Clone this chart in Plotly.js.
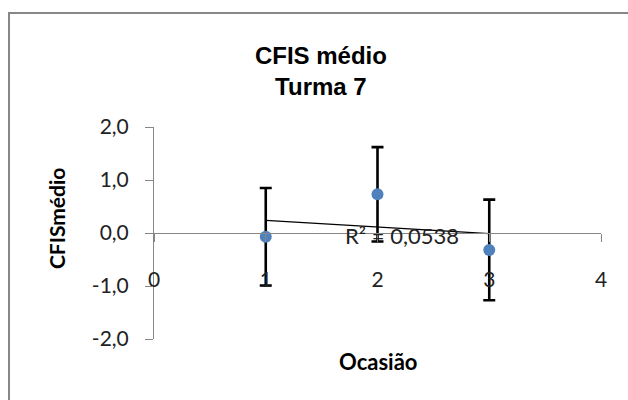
<!DOCTYPE html>
<html>
<head>
<meta charset="utf-8">
<script src="https://cdn.plot.ly/plotly-3.0.1.min.js"></script>
<style>
  html, body { margin: 0; padding: 0; background: #fff; overflow: hidden; }
  #wrap { position: relative; width: 628px; height: 400px; }
  #chart { width: 628px; height: 400px; }
  #frame { position: absolute; left: 8px; top: 12px; width: 700px; height: 500px;
           border-left: 2px solid #878787; border-top: 2px solid #878787; pointer-events: none; }
</style>
</head>
<body>
<div id="wrap">
  <div id="chart"></div>
  <div id="frame"></div>
</div>
<script>
// ---- data ----
const ocasiao = [1, 2, 3];
const cfisMedio = [-0.07, 0.73, -0.32];
const erroPadrao = [0.92, 0.89, 0.95];
const xTickVals = [0, 1, 2, 3, 4];
const xTickText = ["0", "1", "2", "3", "4"];
const yTickVals = [-2, -1, 0, 1, 2];
const yTickText = ["-2,0", "-1,0", "0,0", "1,0", "2,0"];
const r2Label = "R² = 0,0538";

// linear trendline (least squares) from the data
const n = ocasiao.length;
const mx = ocasiao.reduce((a, b) => a + b, 0) / n;
const my = cfisMedio.reduce((a, b) => a + b, 0) / n;
let sxy = 0, sxx = 0;
for (let i = 0; i < n; i++) { sxy += (ocasiao[i] - mx) * (cfisMedio[i] - my); sxx += (ocasiao[i] - mx) ** 2; }
const slope = sxy / sxx, intercept = my - slope * mx;
const trendX = [Math.min(...ocasiao), Math.max(...ocasiao)];
const trendY = trendX.map(x => intercept + slope * x);

const FAM = "Lato, 'Open Sans', sans-serif";
const tickFont = { family: FAM, size: 21, color: "#222" };

const traces = [
  {
    x: trendX, y: trendY, type: "scatter", mode: "lines",
    line: { color: "#000", width: 1.3 }, hoverinfo: "skip", showlegend: false
  },
  {
    x: ocasiao, y: cfisMedio, type: "scatter", mode: "markers",
    marker: { color: "#4F81BD", size: 12 },
    error_y: { type: "data", array: erroPadrao, visible: true, color: "#000", thickness: 2.6, width: 6 },
    showlegend: false
  }
];

const layout = {
  width: 628, height: 400,
  margin: { l: 154, r: 27, t: 127, b: 61 },
  paper_bgcolor: "#fff", plot_bgcolor: "rgba(0,0,0,0)",
  showlegend: false,
  title: {
    text: "<b>CFIS médio</b><br><b>Turma 7</b>",
    font: { family: "'Liberation Sans', Arial, sans-serif", size: 24, color: "#000" },
    x: 0.511, xanchor: "center", y: 0.84, yanchor: "middle"
  },
  xaxis: {
    range: [0, 4], tickvals: xTickVals, ticktext: xTickText,
    showgrid: false, zeroline: false,
    showline: true, linecolor: "#878787", linewidth: 1,
    ticks: "outside", ticklen: 8, tickcolor: "#878787",
    anchor: "free", position: 0.5,
    ticklabelstandoff: 20,
    tickfont: tickFont
  },
  yaxis: {
    range: [-2, 2], tickvals: yTickVals, ticktext: yTickText,
    showgrid: false, zeroline: false,
    showline: true, linecolor: "#878787", linewidth: 1,
    ticks: "outside", ticklen: 8, tickcolor: "#878787",
    ticklabelstandoff: 12,
    tickfont: tickFont
  },
  annotations: [
    {
      x: 2.22, y: -0.04, xref: "x", yref: "y", text: r2Label, showarrow: false,
      font: { family: FAM, size: 22, color: "#222" },
      xanchor: "center", yanchor: "middle"
    },
    {
      text: "<b>Ocasião</b>", xref: "paper", yref: "paper", x: 0.5, y: -0.105,
      xanchor: "center", yanchor: "middle", showarrow: false,
      font: { family: FAM, size: 22, color: "#000" }
    },
    {
      text: "<b>CFISmédio</b>", xref: "paper", yref: "paper", x: -0.219, y: 0.566,
      xanchor: "center", yanchor: "middle", textangle: -90, showarrow: false,
      font: { family: FAM, size: 21, color: "#000" }
    }
  ]
};

Plotly.newPlot("chart", traces, layout, { staticPlot: true, displayModeBar: false });
</script>
</body>
</html>
